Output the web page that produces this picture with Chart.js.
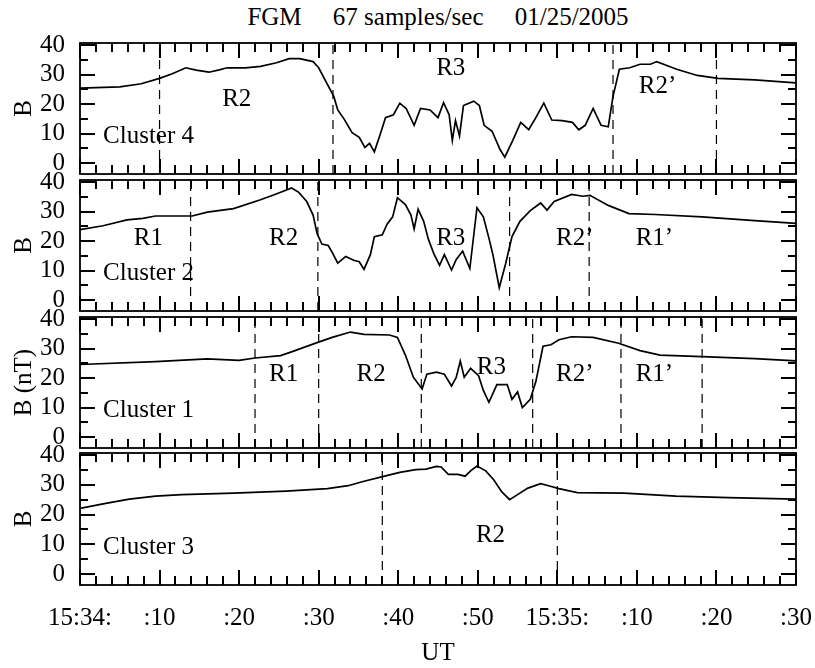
<!DOCTYPE html>
<html>
<head>
<meta charset="utf-8">
<script src="https://cdn.jsdelivr.net/npm/chart.js@4.4.0/dist/chart.umd.min.js"></script>
<style>
  body { margin: 0; background: #fff; }
  #wrap { position: relative; width: 815px; height: 668px; overflow: hidden; }
  #wrap canvas { position: absolute; left: 0; }
  #title {
    position: absolute; top: 3px; left: 80px; width: 716px;
    text-align: center; white-space: pre; color: #000;
    font: 25px "Liberation Serif", "DejaVu Serif", serif;
  }
</style>
</head>
<body>
<div id="wrap">
  <div id="title">FGM     67 samples/sec     01/25/2005</div>
</div>
<script>
// time axis: seconds after 15:34:00 UT
const xTickValues = [0, 10, 20, 30, 40, 50, 60, 70, 80, 90];
const xTickLabels = ["15:34:", ":10", ":20", ":30", ":40", ":50", "15:35:", ":10", ":20", ":30"];
const yTickValues = [0, 10, 20, 30, 40];
const yMin = -3.7;
const yMax = 40.7;

const panelNames = ["Cluster 4", "Cluster 2", "Cluster 1", "Cluster 3"];
const yTitles = ["B", "B", "B (nT)", "B"];

// Cluster 4
const c4Time = [0, 5, 7.7, 10, 11.6, 13.3, 14.6, 16.2, 17.5, 18.5, 20.8, 22.7, 24.7, 26.3, 27.6, 29.3, 30, 30.9, 31.9, 32.4,
  33.2, 34.2, 35.1, 35.8, 36.4, 37, 37.8, 38.4, 39.4, 40.2, 41, 42, 42.8, 44, 45, 45.7, 46.4, 46.8, 47.2, 47.7,
  48.2, 49.5, 50.2, 50.8, 51.8, 52.8, 53.4, 54.4, 55.4, 56.4, 57.3, 58.3, 59.3, 60.6, 61.9, 62.7, 63.5, 64.5, 65.5, 66.4,
  67, 67.8, 69.1, 70.4, 71.7, 72.5, 75, 77.6, 80.2, 84.8, 90];
const c4Field = [25.4, 25.8, 26.9, 28.7, 30.3, 32.3, 31.5, 30.8, 31.6, 32.3, 32.3, 32.8, 34, 35.4, 35.4, 34.4, 32.3, 27.7, 22.6, 18,
  14.9, 10.3, 8.7, 5.3, 6.7, 3.8, 10.3, 15.4, 16.4, 20.3, 18.5, 12.8, 18.5, 18, 15.4, 20.5, 16.4, 7.7, 14.4, 9.2,
  19.5, 21, 19.5, 12.8, 10.8, 4.6, 2, 7.7, 13.8, 11.3, 15.4, 20.3, 14.6, 14.4, 13.8, 11.3, 12.8, 18.5, 12.8, 12.3,
  22.6, 31.8, 32.3, 33.5, 33.5, 34.4, 31.8, 29.7, 28.7, 28.2, 27.2];
const c4Bounds = [10, 31.8, 67, 80];
const c4Regions = ["R2", "R3", "R2’"];
const c4RegionTime = [19.7, 46.6, 72.6];
const c4RegionField = [21.5, 32, 26];

// Cluster 2
const c2Time = [0, 2.9, 5.9, 7.9, 9.5, 14.1, 16, 19.3, 22.6, 24.5, 26.6, 27.5, 28.5, 29.3, 29.8, 30.4, 31.2, 31.7, 32.4, 33.4,
  34.4, 35.1, 35.7, 36.5, 37, 38, 38.6, 39.3, 39.9, 40.9, 41.6, 42, 42.5, 43.2, 43.8, 44.5, 45.2, 45.8, 46.7, 47.3,
  48.1, 49, 49.9, 50.7, 51.4, 51.9, 52.7, 53.5, 54.3, 55.3, 56.6, 57.9, 58.7, 59.6, 61.8, 63.2, 64.1, 66.4, 69, 72.3,
  78.2, 84.8, 90];
const c2Field = [23.9, 25.2, 27.2, 27.7, 28.5, 28.5, 29.8, 31, 33.9, 35.8, 38, 36.5, 33.4, 28.8, 22.6, 19, 18.5, 16.2, 12.5, 14.8,
  13.5, 13, 10.4, 15.4, 21.5, 22.1, 25.7, 28.2, 34.7, 32.4, 28.8, 24.1, 30.8, 26.7, 20.5, 15.6, 11.8, 15.4, 10.2, 13.8,
  16.6, 10.7, 31.3, 28.2, 21, 15.4, 4.2, 12.3, 21.5, 26.7, 30.3, 32.9, 30.5, 33.4, 35.8, 35.2, 35.5, 32.1, 29.3, 29,
  28.2, 26.9, 26];
const c2Bounds = [13.9, 29.9, 54, 64];
const c2Regions = ["R1", "R2", "R3", "R2’", "R1’"];
const c2RegionTime = [8.6, 25.6, 46.6, 62.2, 72.2];
const c2RegionField = [21, 21, 21, 21, 21];

// Cluster 1
const c1Time = [0, 9.5, 16, 20, 22, 25.2, 26.5, 29.8, 31.7, 34, 35.7, 38.9, 39.9, 40.9, 41.9, 43, 43.6, 44.8, 45.8, 46.7,
  47.3, 47.8, 48.3, 49.1, 50.1, 50.7, 51.4, 52.4, 53.7, 54.3, 55, 55.6, 56.6, 57.3, 58.2, 59.2, 60.2, 61.8, 64.5, 67.7,
  70.4, 72.9, 78.2, 84.8, 90];
const c1Field = [24.6, 25.6, 26.5, 26, 26.8, 27.6, 28.8, 32, 33.8, 35.6, 34.8, 34.6, 33.8, 27.8, 20.3, 16.3, 21.3, 22, 21.3, 17.3,
  20.3, 25.8, 20.3, 23.3, 20.8, 15.8, 11.8, 17.8, 17.8, 12.8, 15.3, 10, 12.8, 18.8, 30.8, 31.3, 33, 34, 33.8, 31.8,
  29.3, 27.8, 27.3, 26.6, 25.8];
const c1Bounds = [22, 30, 42.9, 56.9, 68, 78.2];
const c1Regions = ["R1", "R2", "R3", "R2’", "R1’"];
const c1RegionTime = [25.6, 36.6, 51.7, 62.2, 72.2];
const c1RegionField = [21.3, 21.3, 23.5, 21.3, 21.3];

// Cluster 3
const c3Time = [0, 2.9, 6.2, 9.5, 12.8, 19.3, 25.9, 31.1, 33.7, 35.7, 38.3, 40.2, 42.2, 43.5, 44.8, 45.4, 46.3, 47.5, 48.4, 49.1,
  49.9, 51, 52, 53, 54, 55, 56.3, 57.9, 58.9, 60.2, 62.5, 68.4, 74.9, 81.5, 90];
const c3Field = [22.1, 23.6, 25.2, 26.2, 26.7, 27.2, 27.9, 28.7, 29.7, 31.2, 32.9, 34.2, 35.1, 35.3, 36.2, 36, 33.5, 33.5, 32.9, 34.7,
  36.3, 34.7, 31.7, 27.7, 25, 26.7, 28.9, 30.4, 29.7, 28.7, 27.4, 27.2, 26.2, 25.7, 25.2];
const c3Bounds = [38, 60];
const c3Regions = ["R2"];
const c3RegionTime = [51.6];
const c3RegionField = [13];

const panelTime = [c4Time, c2Time, c1Time, c3Time];
const panelField = [c4Field, c2Field, c1Field, c3Field];
const panelBounds = [c4Bounds, c2Bounds, c1Bounds, c3Bounds];
const panelRegions = [c4Regions, c2Regions, c1Regions, c3Regions];
const panelRegionTime = [c4RegionTime, c2RegionTime, c1RegionTime, c3RegionTime];
const panelRegionField = [c4RegionField, c2RegionField, c1RegionField, c3RegionField];

// minor / major tick spacing
const xMinorStep = 2, xMajorStep = 10;
const yMinorStep = 5, yMajorStep = 10;

// layout (pixels)
const panelTop = [43, 180, 317, 453];
const panelBottom = [174, 311, 448, 585];
const PAD_TOP = 20;
const X_AXIS_H = 83;
const SERIF = '"Liberation Serif", "DejaVu Serif", serif';
const FONT = { family: SERIF, size: 25 };

// frame, inward ticks and text labels
const panelDecor = {
  id: "panelDecor",
  afterDraw(chart, args, opts) {
    const ctx = chart.ctx;
    const a = chart.chartArea;
    const xs = chart.scales.x, ys = chart.scales.y;
    const L = Math.round(a.left), R = Math.round(a.right);
    const T = Math.round(a.top), B = Math.round(a.bottom);
    ctx.save();
    ctx.setLineDash([]);
    ctx.fillStyle = "#000000";
    ctx.strokeStyle = "#000000";
    ctx.lineWidth = 2;
    ctx.lineCap = "butt";

    // inward tick marks
    ctx.beginPath();
    const n = Math.round((xs.max - xs.min) / xMinorStep);
    for (let k = 0; k <= n; k++) {
      const t = xs.min + k * xMinorStep;
      const px = Math.round(xs.getPixelForValue(t));
      const len = (t % xMajorStep === 0) ? 15 : 9;
      ctx.moveTo(px, B);
      ctx.lineTo(px, B - len);
      ctx.moveTo(px, T);
      ctx.lineTo(px, T + len);
    }
    for (let v = 0; v <= 40; v += yMinorStep) {
      const py = Math.round(ys.getPixelForValue(v));
      const len = (v % yMajorStep === 0) ? 15 : 8;
      ctx.moveTo(L, py);
      ctx.lineTo(L + len, py);
      ctx.moveTo(R, py);
      ctx.lineTo(R - len, py);
    }
    ctx.stroke();

    // frame
    ctx.lineWidth = 1.8;
    ctx.strokeRect(L, T, R - L, B - T);

    ctx.font = `${FONT.size}px ${SERIF}`;
    ctx.textBaseline = "middle";
    ctx.textAlign = "center";
    opts.regions.forEach((r, k) => {
      ctx.fillText(r, xs.getPixelForValue(opts.regionTime[k]), ys.getPixelForValue(opts.regionField[k]));
    });
    ctx.textAlign = "left";
    ctx.fillText(opts.name, xs.getPixelForValue(2.9), ys.getPixelForValue(9));
    ctx.restore();
  }
};

const wrap = document.getElementById("wrap");

panelNames.forEach((name, i) => {
  const last = i === panelNames.length - 1;
  const canvas = document.createElement("canvas");
  const h = panelBottom[i] - panelTop[i] + PAD_TOP + (last ? X_AXIS_H : 14);
  canvas.width = 815;
  canvas.height = h;
  canvas.style.top = (panelTop[i] - PAD_TOP) + "px";
  canvas.style.width = "815px";
  canvas.style.height = h + "px";
  wrap.appendChild(canvas);

  const datasets = [{
    data: panelTime[i].map((t, k) => ({ x: t, y: panelField[i][k] })),
    borderColor: "#000",
    borderWidth: 1.7,
    pointRadius: 0,
    tension: 0
  }];
  panelBounds[i].forEach((b) => {
    datasets.push({
      data: [{ x: b, y: yMin }, { x: b, y: yMax }],
      borderColor: "#000",
      borderWidth: 1.2,
      borderDash: [9, 6],
      pointRadius: 0
    });
  });

  new Chart(canvas, {
    type: "line",
    data: { datasets },
    plugins: [panelDecor],
    options: {
      responsive: false,
      animation: false,
      devicePixelRatio: 1,
      layout: { padding: { top: PAD_TOP, bottom: last ? 0 : 14, left: 0, right: 19 } },
      plugins: {
        legend: { display: false },
        tooltip: { enabled: false },
        panelDecor: {
          name,
          regions: panelRegions[i],
          regionTime: panelRegionTime[i],
          regionField: panelRegionField[i]
        }
      },
      scales: {
        x: {
          type: "linear",
          min: 0,
          max: 90,
          display: last,
          afterBuildTicks: (s) => { s.ticks = xTickValues.map((v) => ({ value: v })); },
          afterFit: (s) => {
            if (!last) return;
            s.height = X_AXIS_H;
            s.paddingLeft = 0;
            s.paddingRight = 0;
          },
          grid: { display: false },
          border: { display: false },
          ticks: {
            autoSkip: false,
            maxRotation: 0,
            padding: 10,
            color: "#000",
            font: FONT,
            callback: (v, idx) => xTickLabels[idx]
          },
          title: { display: true, text: "UT", color: "#000", font: FONT, padding: { top: 0, bottom: 0 } }
        },
        y: {
          min: yMin,
          max: yMax,
          afterBuildTicks: (s) => { s.ticks = yTickValues.map((v) => ({ value: v })); },
          afterFit: (s) => {
            s.width = 80;
            s.paddingTop = 0;
            s.paddingBottom = 0;
          },
          grid: { display: false },
          border: { display: false },
          ticks: { autoSkip: false, color: "#000", font: FONT, padding: 7 },
          title: { display: true, text: yTitles[i], color: "#000", font: FONT, padding: { top: 9, bottom: 0 } }
        }
      }
    }
  });
});
</script>
</body>
</html>
